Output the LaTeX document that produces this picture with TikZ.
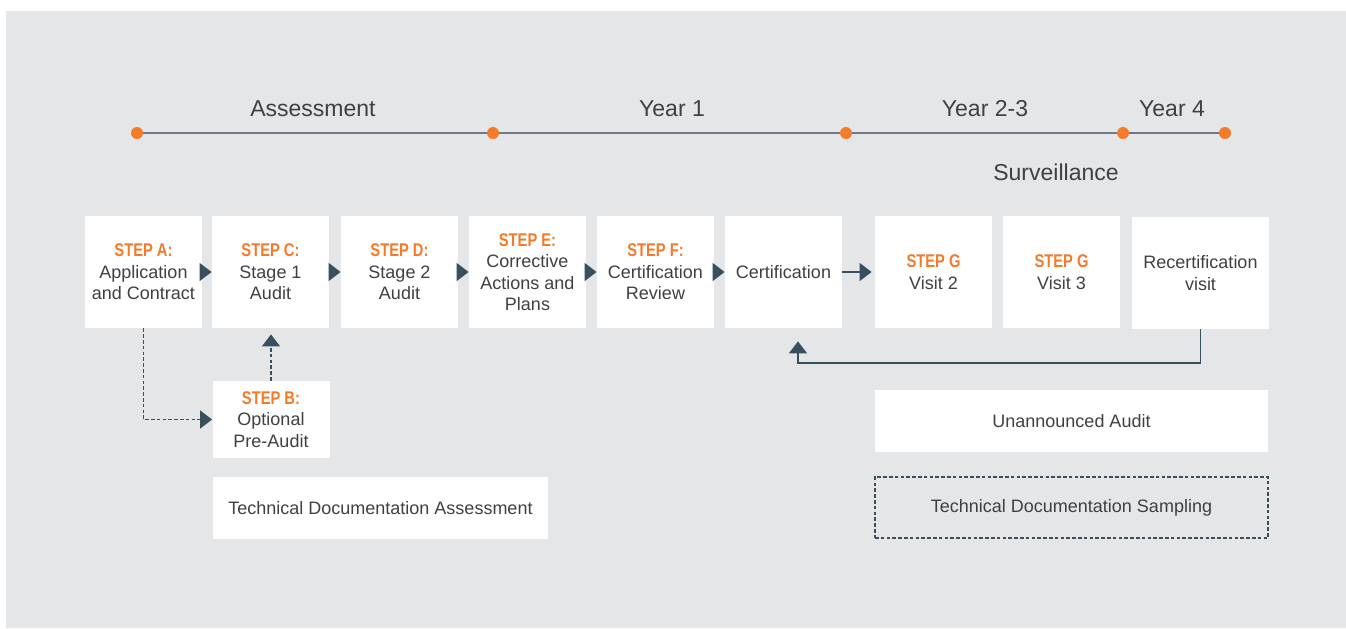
\documentclass[tikz,border=0pt]{standalone}
\usepackage{fontspec}
\setmainfont{Liberation Sans}
\newfontfamily\stepfont[FakeStretch=0.8]{Liberation Sans}
\usepackage{tikz}
\usetikzlibrary{arrows.meta, calc}
\usepackage{xcolor}
\definecolor{sfondo}{HTML}{E5E6E8}
\definecolor{arancio}{HTML}{F47B2A}
\definecolor{ardesia}{HTML}{38505E}
\definecolor{testo}{HTML}{404040}
\definecolor{linea}{HTML}{6E7B86}
\newcommand{\passo}[1]{{\stepfont\bfseries\fontsize{9.2}{10.75}\selectfont\color{arancio}#1}}

\begin{document}
\begin{tikzpicture}[x = 0.5pt, y = -0.5pt,
    box/.style = {fill = white, text = testo, align = center, inner sep = 0pt,
        minimum width = 58.5pt, minimum height = 56pt, font = \fontsize{9}{10.75}\selectfont},
    fascia/.style = {box, minimum width = #1, minimum height = 31pt},
    punto/.style = {circle, fill = arancio, inner sep = 0pt, minimum size = 6pt},
    periodo/.style = {text = testo, font = \fontsize{11.5}{13}\selectfont},
    tempo/.style = {linea, line width = 1pt},
    freccia/.style = {ardesia, line width = 0.8pt, -{Triangle[length = 6pt, width = 9pt]}},
    tratteggio/.style = {freccia, line width = 0.7pt, dash pattern = on 1.8pt off 1.1pt}]
    % Sfondo
    \useasboundingbox (0,0) rectangle (1346,628);
    \fill[sfondo] (6,11) rectangle (1346,628);
    % Linea temporale
    \node[punto] (t0) at (137,133) {};
    \node[punto] (t1) at (493,133) {};
    \node[punto] (t2) at (846,133) {};
    \node[punto] (t3) at (1123,133) {};
    \node[punto] (t4) at (1225,133) {};
    \foreach \a/\b in {t0/t1, t1/t2, t2/t3, t3/t4}
        \draw[tempo] (\a) -- (\b);
    \node[periodo] (valutazione) at (313,109) {Assessment};
    \node[periodo] (anno1) at (672,109) {Year 1};
    \node[periodo] (anno23) at (985,109) {Year 2-3};
    \node[periodo] (anno4) at (1172,109) {Year 4};
    \node[periodo] (sorveglianza) at (1056,172) {Surveillance};
    % Passi
    \node[box] (A) at (143.5,272) {\passo{STEP A:}\\Application\\and Contract};
    \node[box] (C) at (270.5,272) {\passo{STEP C:}\\Stage 1\\Audit};
    \node[box] (D) at (399.5,272) {\passo{STEP D:}\\Stage 2\\Audit};
    \node[box] (E) at (527.5,272) {\passo{STEP E:}\\Corrective\\Actions and\\Plans};
    \node[box] (F) at (655.5,272) {\passo{STEP F:}\\Certification\\Review};
    \node[box] (cert) at (783.5,272) {Certification};
    \node[box] (G2) at (933.5,272) {\passo{STEP G}\\Visit 2};
    \node[box] (G3) at (1061.5,272) {\passo{STEP G}\\Visit 3};
    \node[box, minimum width = 68.5pt] (recert) at (1200.5,273) {Recertification\\visit};
    \node[box, minimum height = 38.5pt] (B) at (271,419.5) {\passo{STEP B:}\\Optional\\Pre-Audit};
    % Frecce
    \foreach \a/\b in {A/C, C/D, D/E, E/F, F/cert}
        \draw[freccia] (\a.east) -- (\b.west);
    \draw[freccia] (cert.east) -- ($(G2.west)+(-3,0)$);
    \draw[tratteggio] (A.south) |- (B.west);
    \draw[tratteggio] (B.north) -- ($(B.north |- C.south)+(0,6)$);
    \coordinate (ritorno) at (798,363);
    \draw[freccia] (recert.south) |- (ritorno) -- ($(ritorno |- cert.south)+(0,13)$);
    % Riquadri in basso
    \node[fascia = 167.5pt] (docvalutazione) at (380.5,508) {Technical Documentation Assessment};
    \node[fascia = 196.5pt] (nonannunciato) at (1071.5,421) {Unannounced Audit};
    \node[fascia = 196.5pt, fill = none, draw = ardesia, line width = 0.7pt,
        dash pattern = on 1.8pt off 1.1pt, minimum height = 30.5pt] (docsorveglianza) at (1071.5,507.5)
        {Technical Documentation Sampling};
\end{tikzpicture}
\end{document}
